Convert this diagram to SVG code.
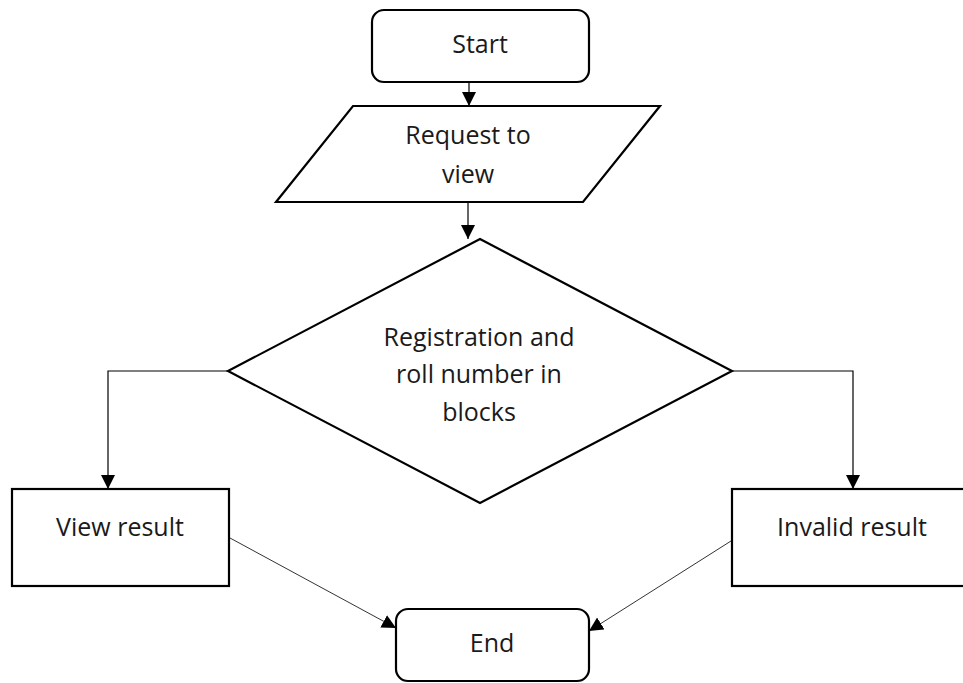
<svg xmlns="http://www.w3.org/2000/svg" width="963" height="683" viewBox="0 0 963 683">
<style>
.node{fill:#fff;stroke:#000;stroke-width:2.2}
.lbl{font-family:"Open Sans","Noto Sans","DejaVu Sans",sans-serif;font-size:25px;fill:#1a1a1a;text-anchor:middle}
.conn{fill:none;stroke:#000;stroke-width:1.2}
.conn2{fill:none;stroke:#333;stroke-width:1}
</style>
<defs>
<marker id="ah" markerUnits="userSpaceOnUse" markerWidth="15" markerHeight="15" refX="14" refY="7" orient="auto">
<path d="M0,0 L14,7 L0,14 z" fill="#000"/>
</marker>
</defs>
<rect width="963" height="683" fill="#fff"/>
<g id="connectors">
<line class="conn" x1="469" y1="82" x2="469" y2="106" marker-end="url(#ah)"/>
<line class="conn" x1="468" y1="202" x2="468" y2="239" marker-end="url(#ah)"/>
<polyline class="conn" points="228,371 108,371 108,489" marker-end="url(#ah)"/>
<polyline class="conn" points="732,371 853,371 853,489" marker-end="url(#ah)"/>
<line class="conn2" x1="230" y1="538" x2="396" y2="628" marker-end="url(#ah)"/>
<line class="conn2" x1="731" y1="541" x2="589" y2="631" marker-end="url(#ah)"/>
</g>
<g id="start">
<rect class="node" x="372" y="10" width="217" height="72" rx="12"/>
<text class="lbl" x="480" y="53">Start</text>
</g>
<g id="request">
<polygon class="node" points="353,106 660,106 583,202 276,202"/>
<text class="lbl" x="468" y="144">Request to</text>
<text class="lbl" x="468" y="183">view</text>
</g>
<g id="decision">
<polygon class="node" points="480,239 732,371 480,503 228,371"/>
<text class="lbl" x="479" y="346">Registration and</text>
<text class="lbl" x="479" y="383">roll number in</text>
<text class="lbl" x="479" y="421">blocks</text>
</g>
<g id="view">
<rect class="node" x="12" y="489" width="217" height="97"/>
<text class="lbl" x="120" y="536">View result</text>
</g>
<g id="invalid">
<rect class="node" x="732" y="489" width="242" height="97"/>
<text class="lbl" x="852" y="536">Invalid result</text>
</g>
<g id="end">
<rect class="node" x="396" y="609" width="193" height="72" rx="12"/>
<text class="lbl" x="492" y="652">End</text>
</g>
</svg>
